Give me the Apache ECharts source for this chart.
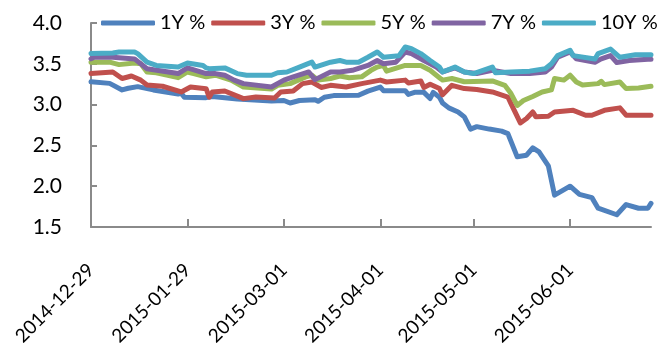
<!DOCTYPE html>
<html>
<head>
<meta charset="utf-8">
<script src="https://cdn.jsdelivr.net/npm/echarts@6/dist/echarts.min.js"></script>
<style>
  html, body { margin: 0; padding: 0; background: #ffffff; }
  #chart { width: 665px; height: 344px; }
</style>
</head>
<body>
<div id="chart"></div>
<script>
// Tick dates on the date axis (monthly steps from the first date)
const tickDates = ['2014-12-29', '2015-01-29', '2015-03-01', '2015-04-01', '2015-05-01', '2015-06-01'];
const axisStart = '2014-12-29';
const axisEnd = '2015-06-27';

const seriesNames = ['1Y %', '3Y %', '5Y %', '7Y %', '10Y %'];
const seriesColors = ['#4F81BD', '#C0504D', '#9BBB59', '#8064A2', '#4BACC6'];

// Yields (%) by date
const y1 = [
  ['2014-12-29', 3.28], ['2015-01-04', 3.26], ['2015-01-08', 3.18], ['2015-01-10', 3.20], ['2015-01-13', 3.22],
  ['2015-01-18', 3.18], ['2015-01-26', 3.13], ['2015-01-27', 3.14], ['2015-01-28', 3.09], ['2015-02-04', 3.085],
  ['2015-02-06', 3.10], ['2015-02-14', 3.07], ['2015-02-25', 3.045], ['2015-03-01', 3.05], ['2015-03-03', 3.02],
  ['2015-03-06', 3.05], ['2015-03-11', 3.06], ['2015-03-12', 3.04], ['2015-03-14', 3.09], ['2015-03-17', 3.11],
  ['2015-03-25', 3.115], ['2015-03-28', 3.165], ['2015-04-01', 3.215], ['2015-04-02', 3.17], ['2015-04-09', 3.17],
  ['2015-04-10', 3.125], ['2015-04-12', 3.15], ['2015-04-15', 3.15], ['2015-04-17', 3.075], ['2015-04-18', 3.15],
  ['2015-04-20', 3.09], ['2015-04-21', 3.02], ['2015-04-23', 2.96], ['2015-04-26', 2.91], ['2015-04-28', 2.85],
  ['2015-04-30', 2.70], ['2015-05-02', 2.73], ['2015-05-06', 2.70], ['2015-05-10', 2.675], ['2015-05-12', 2.645],
  ['2015-05-15', 2.36], ['2015-05-18', 2.38], ['2015-05-20', 2.47], ['2015-05-22', 2.42], ['2015-05-25', 2.25],
  ['2015-05-27', 1.89], ['2015-06-01', 2.00], ['2015-06-04', 1.90], ['2015-06-08', 1.86], ['2015-06-10', 1.73],
  ['2015-06-16', 1.65], ['2015-06-19', 1.775], ['2015-06-23', 1.73], ['2015-06-26', 1.73], ['2015-06-27', 1.79]
];
const y3 = [
  ['2014-12-29', 3.38], ['2015-01-05', 3.40], ['2015-01-08', 3.32], ['2015-01-11', 3.35], ['2015-01-14', 3.30],
  ['2015-01-16', 3.24], ['2015-01-21', 3.225], ['2015-01-27', 3.155], ['2015-01-30', 3.215], ['2015-02-04', 3.195],
  ['2015-02-05', 3.09], ['2015-02-06', 3.155], ['2015-02-10', 3.167], ['2015-02-16', 3.073], ['2015-02-20', 3.093],
  ['2015-02-26', 3.08], ['2015-02-28', 3.155], ['2015-03-04', 3.167], ['2015-03-07', 3.257], ['2015-03-10', 3.277],
  ['2015-03-13', 3.21], ['2015-03-16', 3.236], ['2015-03-21', 3.216], ['2015-03-26', 3.257], ['2015-04-01', 3.30],
  ['2015-04-03', 3.277], ['2015-04-09', 3.30], ['2015-04-10', 3.265], ['2015-04-14', 3.29], ['2015-04-15', 3.21],
  ['2015-04-17', 3.25], ['2015-04-20', 3.196], ['2015-04-21', 3.12], ['2015-04-24', 3.236], ['2015-04-28', 3.196],
  ['2015-05-02', 3.184], ['2015-05-07', 3.155], ['2015-05-12', 3.093], ['2015-05-13', 3.012], ['2015-05-16', 2.775],
  ['2015-05-18', 2.83], ['2015-05-20', 2.91], ['2015-05-21', 2.85], ['2015-05-25', 2.857], ['2015-05-27', 2.91],
  ['2015-06-02', 2.93], ['2015-06-06', 2.87], ['2015-06-08', 2.87], ['2015-06-12', 2.93], ['2015-06-17', 2.96],
  ['2015-06-19', 2.87], ['2015-06-26', 2.87], ['2015-06-27', 2.87]
];
const y5 = [
  ['2014-12-29', 3.52], ['2015-01-04', 3.52], ['2015-01-07', 3.49], ['2015-01-12', 3.51], ['2015-01-14', 3.50],
  ['2015-01-16', 3.40], ['2015-01-19', 3.39], ['2015-01-26', 3.33], ['2015-01-29', 3.40], ['2015-01-31', 3.38],
  ['2015-02-04', 3.34], ['2015-02-07', 3.36], ['2015-02-12', 3.30], ['2015-02-16', 3.216], ['2015-02-25', 3.19],
  ['2015-02-27', 3.236], ['2015-03-03', 3.257], ['2015-03-08', 3.34], ['2015-03-10', 3.36], ['2015-03-12', 3.30],
  ['2015-03-16', 3.32], ['2015-03-19', 3.35], ['2015-03-22', 3.33], ['2015-03-26', 3.34], ['2015-03-29', 3.42],
  ['2015-03-31', 3.46], ['2015-04-02', 3.48], ['2015-04-03', 3.41], ['2015-04-09', 3.48], ['2015-04-14', 3.48],
  ['2015-04-17', 3.42], ['2015-04-20', 3.33], ['2015-04-21', 3.30], ['2015-04-24', 3.32], ['2015-04-28', 3.28],
  ['2015-05-07', 3.29], ['2015-05-11', 3.236], ['2015-05-13', 3.135], ['2015-05-15', 2.99], ['2015-05-17', 3.05],
  ['2015-05-20', 3.10], ['2015-05-23', 3.155], ['2015-05-26', 3.18], ['2015-05-27', 3.32], ['2015-05-30', 3.30],
  ['2015-06-01', 3.36], ['2015-06-03', 3.277], ['2015-06-05', 3.24], ['2015-06-10', 3.257], ['2015-06-11', 3.285],
  ['2015-06-12', 3.245], ['2015-06-17', 3.277], ['2015-06-19', 3.196], ['2015-06-23', 3.204], ['2015-06-27', 3.225]
];
const y7 = [
  ['2014-12-29', 3.56], ['2014-12-30', 3.58], ['2015-01-05', 3.58], ['2015-01-12', 3.56], ['2015-01-16', 3.44],
  ['2015-01-26', 3.38], ['2015-01-29', 3.45], ['2015-02-04', 3.38], ['2015-02-07', 3.38], ['2015-02-10', 3.36],
  ['2015-02-13', 3.30], ['2015-02-16', 3.257], ['2015-02-25', 3.216], ['2015-03-01', 3.30], ['2015-03-04', 3.34],
  ['2015-03-09', 3.40], ['2015-03-11', 3.306], ['2015-03-16', 3.40], ['2015-03-19', 3.40], ['2015-03-23', 3.42],
  ['2015-03-28', 3.48], ['2015-03-31', 3.54], ['2015-04-02', 3.50], ['2015-04-06', 3.52], ['2015-04-09', 3.645],
  ['2015-04-11', 3.625], ['2015-04-15', 3.54], ['2015-04-19', 3.46], ['2015-04-21', 3.40], ['2015-04-25', 3.45],
  ['2015-04-28', 3.40], ['2015-05-02', 3.38], ['2015-05-07', 3.42], ['2015-05-13', 3.38], ['2015-05-19', 3.38],
  ['2015-05-24', 3.40], ['2015-05-26', 3.46], ['2015-05-28', 3.58], ['2015-06-01', 3.645], ['2015-06-03', 3.56],
  ['2015-06-09', 3.52], ['2015-06-11', 3.56], ['2015-06-14', 3.60], ['2015-06-16', 3.515], ['2015-06-20', 3.54],
  ['2015-06-26', 3.555], ['2015-06-27', 3.555]
];
const y10 = [
  ['2014-12-29', 3.625], ['2015-01-05', 3.633], ['2015-01-07', 3.645], ['2015-01-12', 3.645], ['2015-01-13', 3.625],
  ['2015-01-16', 3.52], ['2015-01-19', 3.48], ['2015-01-26', 3.46], ['2015-01-29', 3.51], ['2015-02-03', 3.48],
  ['2015-02-04', 3.45], ['2015-02-05', 3.44], ['2015-02-10', 3.45], ['2015-02-14', 3.38], ['2015-02-17', 3.36],
  ['2015-02-25', 3.36], ['2015-02-27', 3.39], ['2015-03-02', 3.40], ['2015-03-06', 3.46], ['2015-03-10', 3.52],
  ['2015-03-11', 3.46], ['2015-03-16', 3.52], ['2015-03-19', 3.54], ['2015-03-21', 3.52], ['2015-03-25', 3.52],
  ['2015-03-28', 3.58], ['2015-03-31', 3.645], ['2015-04-02', 3.58], ['2015-04-07', 3.60], ['2015-04-09', 3.706],
  ['2015-04-11', 3.686], ['2015-04-14', 3.625], ['2015-04-17', 3.54], ['2015-04-20', 3.46], ['2015-04-21', 3.40],
  ['2015-04-25', 3.46], ['2015-04-28', 3.40], ['2015-05-01', 3.38], ['2015-05-07', 3.46], ['2015-05-08', 3.39],
  ['2015-05-13', 3.40], ['2015-05-19', 3.41], ['2015-05-24', 3.44], ['2015-05-26', 3.50], ['2015-05-28', 3.60],
  ['2015-06-01', 3.665], ['2015-06-02', 3.60], ['2015-06-09', 3.56], ['2015-06-10', 3.625], ['2015-06-14', 3.68],
  ['2015-06-17', 3.58], ['2015-06-22', 3.61], ['2015-06-26', 3.61], ['2015-06-27', 3.61]
];
const seriesData = [y1, y3, y5, y7, y10];

// Timestamp (UTC midnight) from 'YYYY-MM-DD'
function ts(s) {
  const p = s.split('-');
  return Date.UTC(+p[0], +p[1] - 1, +p[2]);
}
function fmtDate(v) {
  const d = new Date(v);
  const mm = String(d.getUTCMonth() + 1).padStart(2, '0');
  const dd = String(d.getUTCDate()).padStart(2, '0');
  return d.getUTCFullYear() + '-' + mm + '-' + dd;
}

const FONT = 'Lato';
const AXIS_GREY = '#8a8a8a';

const chart = echarts.init(document.getElementById('chart'), null, { renderer: 'canvas' });
chart.setOption({
  animation: false,
  backgroundColor: '#ffffff',
  grid: { left: 91, right: 14, top: 23, bottom: 117, containLabel: false, outerBoundsMode: 'none' },
  legend: {
    data: seriesNames,
    icon: 'roundRect',
    left: 101,
    top: 13,
    width: 620,
    padding: 0,
    itemWidth: 54,
    itemHeight: 5,
    itemGap: 6,
    textStyle: { fontFamily: FONT, fontSize: 20, color: '#000000' }
  },
  xAxis: {
    type: 'value',
    min: ts(axisStart),
    max: ts(axisEnd),
    axisLine: { show: true, lineStyle: { color: AXIS_GREY, width: 2 } },
    axisTick: {
      show: true, inside: true, length: 8,
      customValues: tickDates.map(ts),
      lineStyle: { color: AXIS_GREY, width: 2 }
    },
    axisLabel: {
      customValues: tickDates.map(ts),
      rotate: 45,
      margin: 40,
      fontFamily: FONT,
      fontSize: 19,
      color: '#000000',
      formatter: fmtDate
    },
    splitLine: { show: false }
  },
  yAxis: {
    type: 'value',
    min: 1.5,
    max: 4.0,
    interval: 0.5,
    axisLine: { show: true, lineStyle: { color: AXIS_GREY, width: 2 } },
    axisTick: { show: true, inside: true, length: 6, lineStyle: { color: AXIS_GREY, width: 2 } },
    axisLabel: {
      margin: 29,
      fontFamily: FONT,
      fontSize: 21,
      color: '#000000',
      formatter: v => v.toFixed(1)
    },
    splitLine: { show: false }
  },
  series: seriesNames.map((name, i) => ({
    name: name,
    type: 'line',
    symbol: 'none',
    data: seriesData[i].map(p => [ts(p[0]), p[1]]),
    color: seriesColors[i],
    lineStyle: { width: 5, color: seriesColors[i], join: 'round', cap: 'round' }
  }))
});
</script>
</body>
</html>
